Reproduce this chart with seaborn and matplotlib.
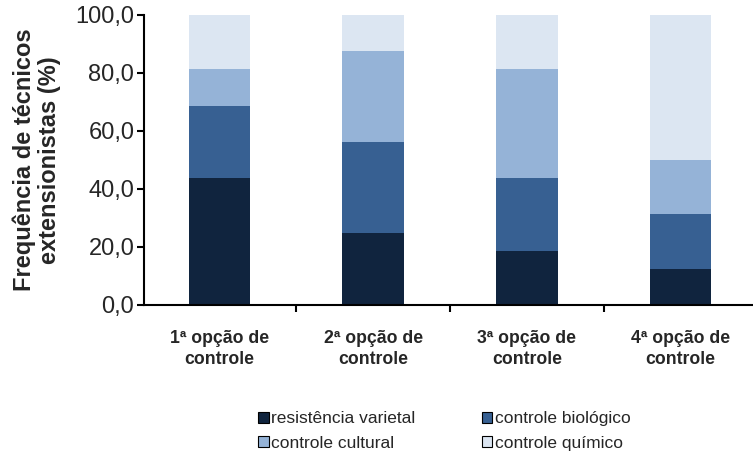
import matplotlib
matplotlib.use("Agg")
import matplotlib.pyplot as plt
from matplotlib.patches import Patch
import seaborn as sns
import numpy as np

categorias = ["1ª opção de\ncontrole", "2ª opção de\ncontrole",
              "3ª opção de\ncontrole", "4ª opção de\ncontrole"]
resistencia_varietal = [43.75, 25.0, 18.75, 12.5]
controle_biologico = [25.0, 31.25, 25.0, 18.75]
controle_cultural = [12.5, 31.25, 37.5, 18.75]
controle_quimico = [18.75, 12.5, 18.75, 50.0]

series_nomes = ["resistência varietal", "controle biológico",
                "controle cultural", "controle químico"]
series_valores = [resistencia_varietal, controle_biologico,
                  controle_cultural, controle_quimico]
cores = ["#10243e", "#376092", "#95b3d7", "#dce6f2"]
y_ticks = [0, 20, 40, 60, 80, 100]

sns.set_theme(style="white")
plt.rcParams["font.family"] = ["Liberation Sans", "DejaVu Sans"]

fig = plt.figure(figsize=(7.53, 4.57), dpi=100)
ax = fig.add_axes([144 / 753, 152 / 457, 609 / 753, 290 / 457])

# Stacked bars: draw cumulative totals from the top segment down
acumulado = np.cumsum(np.array(series_valores), axis=0)
for i in range(len(series_nomes) - 1, -1, -1):
    sns.barplot(x=list(range(len(categorias))), y=acumulado[i], color=cores[i],
                width=0.4, saturation=1, ax=ax, native_scale=True,
                edgecolor="none", linewidth=0)

ax.set_xlim(-0.49, 3.47)
ax.set_ylim(0, 100)
ax.set_yticks(y_ticks)
ax.set_yticklabels([f"{v:.1f}".replace(".", ",") for v in y_ticks], fontsize=17)
ax.set_xticks(range(len(categorias)))
ax.set_xticklabels(categorias, fontsize=12.7, fontweight="bold", linespacing=1.3)
ax.set_xticks([0.5, 1.5, 2.5], minor=True)
ax.tick_params(axis="x", which="major", length=0, pad=18)
ax.tick_params(axis="x", which="minor", direction="out", length=5, width=1.5,
               color="black", bottom=True)
ax.tick_params(axis="y", direction="out", length=5, width=1.5, color="black",
               left=True, pad=2)
ax.set_xlabel("")
ax.set_ylabel("Frequência de técnicos\nextensionistas (%)", fontsize=17,
              fontweight="bold", linespacing=1.15, labelpad=10)

for lado in ["top", "right"]:
    ax.spines[lado].set_visible(False)
for lado in ["left", "bottom"]:
    ax.spines[lado].set_color("black")
    ax.spines[lado].set_linewidth(1.5)

# Legend filled row by row, two entries per row
ordem = [0, 2, 1, 3]
handles = [Patch(facecolor=cores[k], edgecolor="black", linewidth=0.8) for k in ordem]
rotulos = [series_nomes[k] for k in ordem]
fig.legend(handles, rotulos, loc="upper left", bbox_to_anchor=(0.343, 0.1),
           ncol=2, frameon=False, fontsize=12.5, handlelength=0.6,
           handleheight=0.6, handletextpad=0.15, columnspacing=3.8,
           labelspacing=0.55, borderaxespad=0, borderpad=0)

fig.savefig("out.png", dpi=100)
